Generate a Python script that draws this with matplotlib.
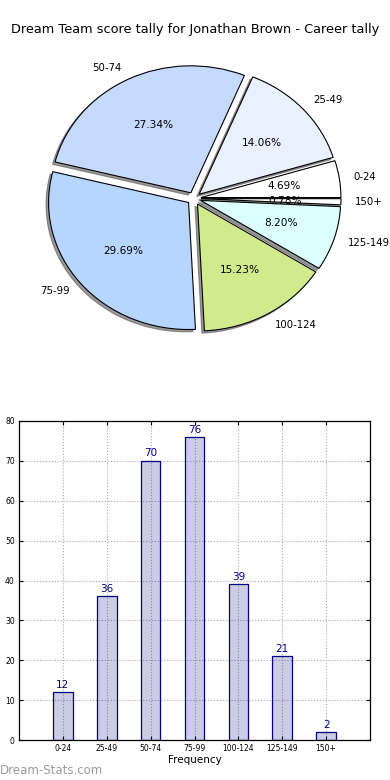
import matplotlib
matplotlib.use("Agg")
import matplotlib.pyplot as plt

categories = ["0-24", "25-49", "50-74", "75-99", "100-124", "125-149", "150+"]
counts = [12, 36, 70, 76, 39, 21, 2]
pie_colors = ["#ffffff", "#e9f0ff", "#c6d9ff", "#b6d6ff", "#d1eb8c", "#dcffff", "#ffffff"]
title = "Dream Team score tally for Jonathan Brown - Career tally"

W, H = 390, 780
fig = plt.figure(figsize=(W / 100, H / 100), dpi=100)

fig.text(0.5, 1 - 30 / H, title, ha="center", va="center", fontsize=9.3)

# Pie (elliptical, as in old matplotlib without equal aspect)
rx, ry = 140.0, 127.0
top_px, bot_px = 48.5, 348.5
axp = fig.add_axes([0, (H - bot_px) / H, 1, (bot_px - top_px) / H])
wedges, texts, autotexts = axp.pie(
    counts, labels=categories, colors=pie_colors, autopct="%1.2f%%",
    explode=[0.05] * len(counts),
    shadow=dict(ox=-0.013, oy=-0.013, facecolor="#555555", edgecolor="#555555", alpha=0.6),
    startangle=0,
    wedgeprops=dict(edgecolor="black", linewidth=0.8),
    textprops=dict(fontsize=7.6))
for t in texts:
    t.set_fontsize(7.3)
axp.set_aspect("auto")
axp.set_xlim(-194 / rx, 196 / rx)
hh = (bot_px - top_px) / 2 / ry
axp.set_ylim(-hh, hh)
axp.axis("off")

# Bar chart
L, R, T, B = 19, 370, 421, 740
axb = fig.add_axes([L / W, (H - B) / H, (R - L) / W, (B - T) / H])
pos = list(range(1, len(counts) + 1))
bars = axb.bar(pos, counts, width=0.45, facecolor=(0, 0, 0.5, 0.2),
               edgecolor="#000080", linewidth=0.9, zorder=2)
for p, v in zip(pos, counts):
    axb.text(p, v + 0.6, str(v), ha="center", va="bottom", color="#000080", fontsize=7.5)
axb.set_xlim(0, 8)
axb.set_ylim(0, 80)
axb.set_xticks(pos)
axb.set_xticklabels(categories)
axb.set_yticks(range(0, 81, 10))
axb.tick_params(labelsize=5.5, direction="in", top=True, right=True, length=3, pad=3)
axb.grid(True, linestyle=":", color="#aaaaaa", linewidth=0.8, zorder=0)
axb.set_axisbelow(True)
axb.set_xlabel("Frequency", fontsize=7.5, labelpad=1)
for s in axb.spines.values():
    s.set_linewidth(0.9)

fig.text(0, 1 - 771 / H, "Dream-Stats.com", ha="left", va="center", color="#999999", fontsize=8.5)

fig.savefig("out.png", dpi=100)
